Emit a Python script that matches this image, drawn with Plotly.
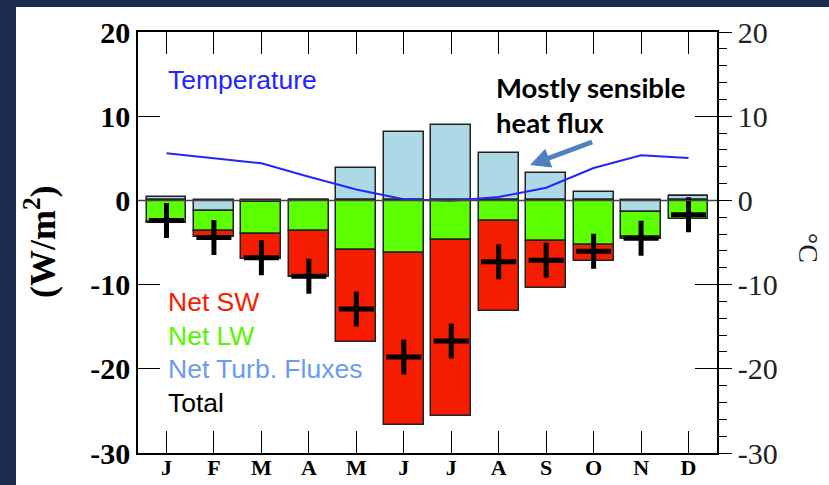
import plotly.graph_objects as go

# Monthly surface energy budget (W/m^2) and air temperature (deg C)
months = ["J", "F", "M", "A", "M", "J", "J", "A", "S", "O", "N", "D"]
net_turb = [0.4, -1.3, -0.2, 0.1, 3.9, 8.1, 8.9, 5.6, 3.25, 0.95, -1.4, 0.5]
net_lw = [-2.6, -2.3, -3.8, -3.65, -5.9, -6.2, -4.75, -2.5, -4.8, -5.3, -2.95, -2.25]
net_sw = [-0.1, -0.7, -2.9, -5.45, -10.9, -20.5, -20.85, -10.6, -5.65, -1.9, -0.25, 0.0]
total = [-2.4, -4.4, -6.8, -9.0, -12.9, -18.6, -16.7, -7.3, -7.1, -6.05, -4.5, -1.7]
temperature = [5.6, 5.0, 4.4, 2.8, 1.3, 0.15, -0.05, 0.4, 1.5, 3.85, 5.35, 5.05]

flux_ticks = [20, 10, 0, -10, -20, -30]
flux_ticktext = ["20", "10", "0", "-10", "-20", "-30"]

W, H = 829, 485
ML, MR, MT, MB = 138, 112, 32, 32
PW, PH = W - ML - MR, H - MT - MB


def px(x):
    return (x - ML) / PW


def py(y):
    return (H - MB - y) / PH


x = list(range(len(months)))
outline = dict(color="#222222", width=1.5)

fig = go.Figure()
fig.add_trace(go.Bar(x=x, y=net_turb, name="Net Turb. Fluxes", width=0.84,
                     marker=dict(color="#add8e6", line=outline)))
fig.add_trace(go.Bar(x=x, y=net_lw, name="Net LW", width=0.84,
                     marker=dict(color="#5cff00", line=outline)))
fig.add_trace(go.Bar(x=x, y=net_sw, name="Net SW", width=0.84,
                     marker=dict(color="#f61c00", line=outline)))
fig.add_trace(go.Scatter(x=x, y=temperature, name="Temperature", yaxis="y2",
                         mode="lines", line=dict(color="#2424ff", width=2)))
fig.add_trace(go.Scatter(x=x, y=total, name="Total", mode="markers",
                         marker=dict(symbol="cross-thin", size=25,
                                     line=dict(color="black", width=5))))

serif = "Liberation Serif"
sans = "Liberation Sans"

annotations = [
    dict(x=px(166), y=py(80), text="Temperature", font=dict(family=sans, size=26.5, color="#2424ff")),
    dict(x=px(166), y=py(302), text="Net SW", font=dict(family=sans, size=26.5, color="#f61c00")),
    dict(x=px(166), y=py(336), text="Net LW", font=dict(family=sans, size=26.5, color="#55f500")),
    dict(x=px(166), y=py(369), text="Net Turb. Fluxes", font=dict(family=sans, size=26.5, color="#6b9bf2")),
    dict(x=px(166), y=py(403), text="Total", font=dict(family=sans, size=26.5, color="black")),
    dict(x=px(494), y=py(87), text="<b>Mostly sensible</b>", font=dict(family="Lato", size=27.5, color="black")),
    dict(x=px(494), y=py(122), text="<b>heat flux</b>", font=dict(family="Lato", size=27.5, color="black")),
]
for a in annotations:
    a.update(xref="paper", yref="paper", xanchor="left", yanchor="middle", showarrow=False)

annotations += [
    dict(x=px(40), y=py(242), xref="paper", yref="paper", text="<b>(W/m<sup>2</sup>)</b>",
         xanchor="center", yanchor="middle",
         textangle=-90, showarrow=False, font=dict(family=serif, size=36, color="black")),
    dict(x=px(808), y=py(248), xref="paper", yref="paper", text="°C",
         xanchor="center", yanchor="middle",
         textangle=90, showarrow=False, font=dict(family=serif, size=28, color="#222222")),
    dict(x=7.66, y=4.2, xref="x", yref="y", ax=9.0, ay=7.0, axref="x", ayref="y",
         text="", showarrow=True, arrowhead=2, arrowsize=0.8, arrowwidth=5,
         arrowcolor="#4f81bd", standoff=0),
]

fig.update_layout(
    width=W, height=H,
    margin=dict(l=ML, r=MR, t=MT, b=MB, pad=0, autoexpand=False),
    paper_bgcolor="#1c2b4f",
    plot_bgcolor="white",
    barmode="relative",
    bargap=0,
    showlegend=False,
    annotations=annotations,
    shapes=[
        dict(type="rect", xref="paper", yref="paper", x0=px(16), x1=1.4, y0=-0.3, y1=py(7),
             fillcolor="white", line=dict(width=0), layer="below"),
        dict(type="line", xref="paper", yref="y", x0=0, x1=1, y0=0, y1=0,
             line=dict(color="#444444", width=1.5), layer="above"),
    ],
    xaxis=dict(
        range=[-0.6, 11.6], tickvals=x, ticktext=months, automargin=False,
        ticks="inside", ticklen=22, tickwidth=1.2, tickcolor="black",
        showline=True, linecolor="black", linewidth=1.5, mirror="ticks",
        showgrid=False, zeroline=False, ticklabelstandoff=-6,
        tickfont=dict(family=serif, size=22, color="black", weight="bold"),
    ),
    yaxis=dict(
        range=[-30, 20], tickvals=flux_ticks, ticktext=flux_ticktext, automargin=False,
        ticks="inside", ticklen=22, tickwidth=1.2, tickcolor="black",
        showline=True, linecolor="black", linewidth=1.5, mirror="ticks",
        showgrid=False, zeroline=False,
        tickfont=dict(family=serif, size=30, color="black", weight="bold"),
    ),
    yaxis2=dict(
        range=[-30, 20], overlaying="y", side="right", automargin=False,
        tickvals=flux_ticks, ticktext=flux_ticktext,
        ticks="outside", ticklen=13, tickwidth=1.2, tickcolor="black",
        minor=dict(tickvals=list(range(-30, 21, 2)), ticks="outside", ticklen=8,
                   tickwidth=1.2, tickcolor="black"),
        showline=True, linecolor="black", linewidth=1.5,
        showgrid=False, zeroline=False,
        tickfont=dict(family=serif, size=30, color="#222222"),
    ),
)

fig.write_html("out.html")
